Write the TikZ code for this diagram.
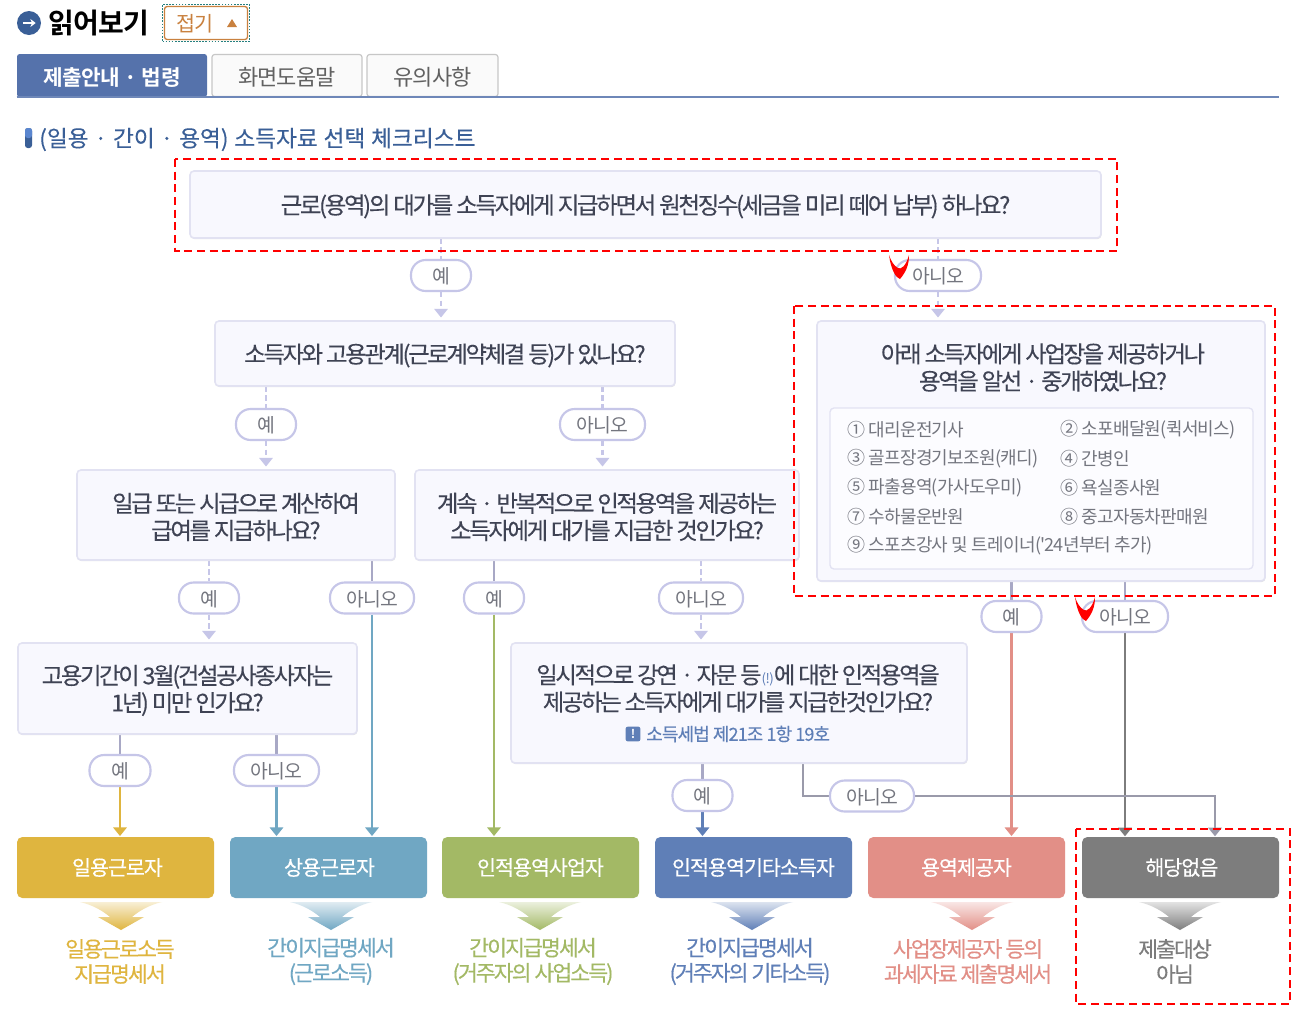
\documentclass[tikz,border=0pt]{standalone}
\usepackage{fontspec}
\usetikzlibrary{arrows.meta,backgrounds,shadows,calc}
\setmainfont{Noto Sans CJK KR}
\newfontfamily\krq{Noto Sans CJK KR}[LetterSpace=-10,FakeBold=0.25]
\newfontfamily\krt{Noto Sans CJK KR}[LetterSpace=-9,FakeBold=0.25]
\newfontfamily\krr{Noto Sans CJK KR}[LetterSpace=-4]
\newfontfamily\krs{Noto Sans CJK KR}[WordSpace=1.15,FakeBold=0.22]
\newfontfamily\krb{Noto Sans CJK KR}[LetterSpace=-5,FakeBold=0.4]
\newfontfamily\krbb{Noto Sans CJK KR Bold}[LetterSpace=-2]
\definecolor{lav}{HTML}{C6C6E8}
\definecolor{boxfill}{HTML}{F8F8FE}
\definecolor{boxline}{HTML}{E2E2F2}
\definecolor{qtext}{HTML}{3F4354}
\definecolor{itemtext}{HTML}{74767F}
\definecolor{cgold}{HTML}{DFB53F}
\definecolor{cblue}{HTML}{70A7C3}
\definecolor{cgreen}{HTML}{A3B965}
\definecolor{cnavy}{HTML}{5F7FB7}
\definecolor{cpink}{HTML}{E28F87}
\definecolor{cgray}{HTML}{7D7D7D}
\definecolor{crossgray}{HTML}{9A9AAA}
\definecolor{tabblue}{HTML}{5572AB}
\definecolor{hdblue}{HTML}{3A5F97}
\definecolor{btn}{HTML}{C9813F}
\tikzset{
  x=0.75pt,y=-0.75pt,
  psize/.style 2 args={minimum width=#1*0.75pt,minimum height=#2*0.75pt},
  qbox/.style={draw=boxline,line width=1.2pt,fill=boxfill,rounded corners=3pt,inner sep=0pt,align=center,
    text=qtext,font=\krq\fontsize{17.5}{20.4}\selectfont,drop shadow={fill=black!12,opacity=1,shadow xshift=0.4pt,shadow yshift=-0.8pt}},
  pill/.style={draw=lav,line width=1.6pt,fill=white,rounded corners=11pt,psize={#1}{31},inner sep=0pt,text=itemtext,font=\krr\fontsize{14.5}{16}\selectfont,execute at begin node={\rule{0pt}{13.6pt}}},
  resbox/.style={fill=#1,rounded corners=4pt,psize={197}{61},inner sep=0pt,text=white,font=\krb\fontsize{15.5}{18}\selectfont},
  restxt/.style={inner sep=0pt,text=#1,font=\krt\fontsize{16.2}{18.8}\selectfont,align=center},
  item/.style={inner sep=0pt,anchor=west,text=itemtext,font=\krr\fontsize{13.5}{15}\selectfont},
  lavdash/.style={draw=lav,line width=1.7pt,dash pattern=on 4pt off 2.5pt},
  lavsolid/.style={draw=lav!85!black,line width=1.8pt},
  flow/.style={draw=#1,line width=1.8pt},
  tip/.style={-{Triangle[width=10pt,length=6.5pt]},shorten >=#1},
  tabbox/.style={draw=black!22,line width=0.9pt,fill=black!2,rounded corners=2pt,inner sep=0pt,text=black!62,font=\krr\fontsize{16.5}{18}\selectfont},
  reddash/.style={draw=red,line width=1.5pt,dash pattern=on 6pt off 3.5pt},
}
\newcommand\dn{\rule{0pt}{17.4pt}}
\newcommand\fanarrow[2]{%
 \shade[top color=#2!22,bottom color=#2] ($(#1)+(-41,0)$) .. controls ($(#1)+(-28,3)$) and ($(#1)+(-18,9)$) .. ($(#1)+(-11,15)$) -- ($(#1)+(-23,15)$) -- ($(#1)+(0,28)$) -- ($(#1)+(23,15)$) -- ($(#1)+(11,15)$) .. controls ($(#1)+(18,9)$) and ($(#1)+(28,3)$) .. ($(#1)+(41,0)$) -- cycle;}
\newcommand\redcheck[1]{%
 \fill[red,shift={(#1)}] (-10,-10) .. controls (-8,5) and (-3,13) .. (1,14) .. controls (7,7) and (10,0) .. (10,-10) .. controls (7,1) and (2,5) .. (-1,3) .. controls (-5,1) and (-8,-4) .. (-10,-10) -- cycle;}
\begin{document}
\begin{tikzpicture}
\useasboundingbox (0,0) rectangle (1307,1029);
% header
\node[circle,fill=hdblue,minimum size=18pt,inner sep=0pt] (hdicon) at (29,23) {};
\draw[white,line width=1.4pt,-{Stealth[length=4pt,width=6pt]}] ([xshift=-4.5pt]hdicon.center) -- ([xshift=5pt]hdicon.center);
\node[inner sep=0pt,text=black,font=\krbb\fontsize{21}{24}\selectfont] (hdtitle) at (99,23) {읽어보기};
\node[draw=teal!70!gray,densely dotted,line width=1.3pt,psize={87}{37},inner sep=0pt] (btnring) at (206,23) {};
\node[draw=btn,line width=1pt,fill=white,rounded corners=2pt,psize={83}{33},inner sep=0pt] (btnbox) at (206,23) {};
\node[inner sep=0pt,text=btn,font=\krr\fontsize{15.5}{17}\selectfont] (btntxt) at (195,24) {접기};
\fill[btn] (227,27) -- (237,27) -- (232,19) -- cycle;
% tabs
\node[fill=tabblue,rounded corners=2pt,psize={190}{43},inner sep=0pt,text=white,font=\krbb\fontsize{16}{18}\selectfont] (tab1) at (112,75.5) {\rule{0pt}{16pt}제출안내 · 법령};
\node[tabbox,psize={150}{42}] (tab2) at (287,75.5) {\rule{0pt}{16pt}화면도움말};
\node[tabbox,psize={131}{42}] (tab3) at (432.5,75.5) {\rule{0pt}{16pt}유의사항};
\draw[color=tabblue!85,line width=1.2pt] (tab1.south west) -- ++(1262,0);
% subtitle
\fill[hdblue,rounded corners=2pt] (25,128) rectangle (32,148);
\fill[cblue!80!blue,rounded corners=2pt] (25,128) rectangle (32,138);
\node[inner sep=0pt,anchor=west,text=hdblue,font=\krs\fontsize{17}{18}\selectfont] (subtitle) at (39,139.5) {(일용 · 간이 · 용역) 소득자료 선택 체크리스트};
% question boxes
\node[qbox,psize={911}{67},font=\krq\fontsize{17.6}{20.4}\selectfont] (q1) at (645.5,204.5) {\dn 근로(용역)의 대가를 소득자에게 지급하면서 원천징수(세금을 미리 떼어 납부) 하나요?};
\node[qbox,psize={460}{65}] (q2) at (445,353.5) {\dn 소득자와 고용관계(근로계약체결 등)가 있나요?};
\node[qbox,psize={448}{260}] (q3) at (1041,451) {};
\node[inner sep=0pt,align=center,text=qtext,font=\krq\fontsize{17.5}{20.4}\selectfont] (q3t) at (1043,367.5) {아래 소득자에게 사업장을 제공하거나\\용역을 알선 · 중개하였나요?};
\node[draw=boxline,line width=1pt,fill=white!60!boxfill,rounded corners=3pt,psize={423}{161},inner sep=0pt] (q3in) at (1041.5,488.5) {};
\node[item] (i1) at (847,430) {① 대리운전기사};
\node[item] (i2) at (1060,430) {② 소포배달원(퀵서비스)};
\node[item] (i3) at (847,459) {③ 골프장경기보조원(캐디)};
\node[item] (i4) at (1060,459) {④ 간병인};
\node[item] (i5) at (847,488) {⑤ 파출용역(가사도우미)};
\node[item] (i6) at (1060,488) {⑥ 욕실종사원};
\node[item] (i7) at (847,517) {⑦ 수하물운반원};
\node[item] (i8) at (1060,517) {⑧ 중고자동차판매원};
\node[item] (i9) at (847,546) {⑨ 스포츠강사 및 트레이너('24년부터 추가)};
\node[qbox,psize={318}{90}] (q4) at (236,515) {\dn 일급 또는 시급으로 계산하여\\급여를 지급하나요?};
\node[qbox,psize={384}{90}] (q5) at (607,515) {\dn 계속 · 반복적으로 인적용역을 제공하는\\소득자에게 대가를 지급한 것인가요?};
\node[qbox,psize={339}{91}] (q6) at (187.5,688.5) {\dn 고용기간이 3월(건설공사종사자는\\1년) 미만 인가요?};
\node[qbox,psize={456}{120}] (q7) at (739,703) {};
\node[inner sep=0pt,align=center,text=qtext,font=\krq\fontsize{17.5}{20.4}\selectfont] (q7t) at (738,688.5) {일시적으로 강연 · 자문 등{\color{cnavy}\krr\fontsize{10}{10}\selectfont(!)}에 대한 인적용역을\\제공하는 소득자에게 대가를 지급한것인가요?};
\node[fill=cnavy,rounded corners=1.5pt,minimum size=11pt,inner sep=0pt,text=white,font=\krbb\fontsize{9}{9}\selectfont] (q7i) at (633,734) {!};
\node[inner sep=0pt,anchor=west,text=cnavy,font=\krb\fontsize{13.5}{15}\selectfont] (q7r) at (646,734) {소득세법 제21조 1항 19호};
% results
\node[resbox=cgold] (r1) at (115.5,867.5) {\hspace*{3pt}일용근로자};
\node[resbox=cblue] (r2) at (328.5,867.5) {\hspace*{1.5pt}상용근로자};
\node[resbox=cgreen] (r3) at (540.5,867.5) {인적용역사업자};
\node[resbox=cnavy] (r4) at (753.5,867.5) {인적용역기타소득자};
\node[resbox=cpink] (r5) at (966.5,867.5) {용역제공자};
\node[resbox=cgray] (r6) at (1180.5,867.5) {\hspace*{2pt}해당없음};
\coordinate (fa1) at (121,902);\coordinate (fa2) at (331,902);\coordinate (fa3) at (540,902);
\coordinate (fa4) at (752,902);\coordinate (fa5) at (972,902);\coordinate (fa6) at (1180,902);
\fanarrow{fa1}{cgold}\fanarrow{fa2}{cblue}\fanarrow{fa3}{cgreen}
\fanarrow{fa4}{cnavy}\fanarrow{fa5}{cpink}\fanarrow{fa6}{cgray}
\node[restxt=cgold] (t1) at (120,961.5) {일용근로소득\\지급명세서};
\node[restxt=cblue] (t2) at (331,961.5) {간이지급명세서\\(근로소득)};
\node[restxt=cgreen] (t3) at (533,961.5) {간이지급명세서\\(거주자의 사업소득)};
\node[restxt=cnavy] (t4) at (750,961.5) {간이지급명세서\\(거주자의 기타소득)};
\node[restxt=cpink] (t5) at (968,961.5) {사업장제공자 등의\\과세자료 제출명세서};
\node[restxt=cgray] (t6) at (1175,961.5) {제출대상\\아님};
% pills
\node[pill=60] (y1) at (441,275.5) {예};
\node[pill=86] (n1) at (938,275.5) {아니오};
\node[pill=60] (y2) at (266,424.5) {예};
\node[pill=85] (n2) at (602.5,424.5) {아니오};
\node[pill=60] (y4) at (209,598) {예};
\node[pill=84] (n4) at (372,598) {아니오};
\node[pill=60] (y5) at (494,598) {예};
\node[pill=84] (n5) at (701,598) {아니오};
\node[pill=60] (y3) at (1011.5,616.5) {예};
\node[pill=86] (n3) at (1125,616.5) {아니오};
\node[pill=61] (y6) at (120,770.5) {예};
\node[pill=85] (n6) at (276.5,770.5) {아니오};
\node[pill=60] (y7) at (702.5,795.5) {예};
\node[pill=84] (n7) at (872,796) {아니오};
\coordinate (q7n) at (803,763);
\coordinate (r6a) at (1125,837);
\coordinate (r6b) at (1215,837);
\begin{scope}[on background layer]
\fill[white] (0,0) rectangle (1307,1029);
\draw[lavdash] (q1.south -| y1) -- (y1);
\draw[lavdash,tip=2pt] (y1) -- (y1 |- q2.north);
\draw[lavdash] (q1.south -| n1) -- (n1);
\draw[lavdash,tip=2pt] (n1) -- (n1 |- q3.north);
\draw[lavdash] (q2.south -| y2) -- (y2);
\draw[lavdash,tip=2pt] (y2) -- (y2 |- q4.north);
\draw[lavdash] (q2.south -| n2) -- (n2);
\draw[lavdash,tip=2pt] (n2) -- (n2 |- q5.north);
\draw[lavdash] (q4.south -| y4) -- (y4);
\draw[lavdash,tip=2pt] (y4) -- (y4 |- q6.north);
\draw[lavdash] (q5.south -| n5) -- (n5);
\draw[lavdash,tip=2pt] (n5) -- (n5 |- q7.north);
\draw[lavsolid] (q4.south -| n4) -- (n4);
\draw[flow=cblue,tip=0.5pt] (n4) -- (n4 |- r2.north);
\draw[lavsolid] (q5.south -| y5) -- (y5);
\draw[flow=cgreen,tip=0.5pt] (y5) -- (y5 |- r3.north);
\draw[lavsolid] (q6.south -| y6) -- (y6);
\draw[flow=cgold,tip=0.5pt] (y6) -- (y6 |- r1.north);
\draw[lavsolid] (q6.south -| n6) -- (n6);
\draw[flow=cblue,tip=0.5pt] (n6) -- (n6 |- r2.north);
\draw[lavsolid] (q7.south -| y7) -- (y7);
\draw[flow=cnavy,tip=0.5pt] (y7) -- (y7 |- r4.north);
\draw[lavsolid] (q3.south -| y3) -- (y3);
\draw[flow=cpink,tip=0.5pt] (y3) -- (y3 |- r5.north);
\draw[lavsolid] (q3.south -| n3) -- (n3);
\draw[flow=cgray,tip=0.5pt] (n3) -- (r6a);
\draw[flow=crossgray] (q7n) |- (n7);
\draw[flow=crossgray,tip=0.5pt] (n7) -| (r6b);
\end{scope}
% red highlights
\coordinate (ra1) at (175,159);\coordinate (ra2) at (1117,251);
\coordinate (rb1) at (794,306);\coordinate (rb2) at (1275,596);
\coordinate (rc1) at (1076,829);\coordinate (rc2) at (1290,1004);
\draw[reddash] (ra1) rectangle (ra2);
\draw[reddash] (rb1) rectangle (rb2);
\draw[reddash] (rc1) rectangle (rc2);
\redcheck{899,265}
\redcheck{1085,607}
\end{tikzpicture}
\end{document}
